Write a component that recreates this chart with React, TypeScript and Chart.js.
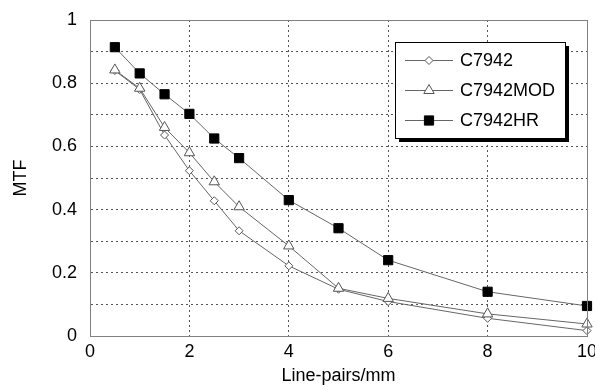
import React, { useEffect, useRef } from "react";
import { Chart, registerables } from "chart.js";

Chart.register(...registerables);

const linePairs = [0.5, 1, 1.5, 2, 2.5, 3, 4, 5, 6, 8, 10];
const c7942 = [0.84, 0.78, 0.636, 0.523, 0.428, 0.333, 0.222, 0.148, 0.109, 0.056, 0.017];
const c7942mod = [0.842, 0.784, 0.66, 0.58, 0.488, 0.409, 0.285, 0.151, 0.119, 0.07, 0.038];
const c7942hr = [0.914, 0.831, 0.765, 0.703, 0.625, 0.563, 0.43, 0.341, 0.24, 0.14, 0.095];
const seriesNames = ["C7942", "C7942MOD", "C7942HR"];

const FONT = "'Liberation Sans', Arial, sans-serif";

const toPoints = (ys: number[]) => ys.map((y, i) => ({ x: linePairs[i], y }));

function drawMarker(ctx: CanvasRenderingContext2D, style: string, r: number, x: number, y: number) {
  ctx.beginPath();
  if (style === "rectRot") {
    ctx.moveTo(x, y - r);
    ctx.lineTo(x + r, y);
    ctx.lineTo(x, y + r);
    ctx.lineTo(x - r, y);
    ctx.closePath();
  } else if (style === "triangle") {
    const w = (r * Math.sqrt(3)) / 2;
    ctx.moveTo(x, y - r);
    ctx.lineTo(x + w, y + r / 2);
    ctx.lineTo(x - w, y + r / 2);
    ctx.closePath();
  } else {
    const s = Math.SQRT1_2 * r;
    ctx.rect(x - s, y - s, 2 * s, 2 * s);
  }
  ctx.fill();
  ctx.stroke();
}

const boxPlugin = {
  id: "boxAndLegend",
  afterDraw(chart: any) {
    const ctx = chart.ctx;
    const a = chart.chartArea;
    ctx.save();
    ctx.strokeStyle = "#808080";
    ctx.lineWidth = 1;
    ctx.strokeRect(
      Math.round(a.left) + 0.5,
      Math.round(a.top) + 0.5,
      Math.round(a.right - a.left),
      Math.round(a.bottom - a.top)
    );
    const bx = 395, by = 42, bw = 170, bh = 96;
    ctx.fillStyle = "#000";
    ctx.fillRect(bx + 4, by + 4, bw, bh);
    ctx.fillStyle = "#fff";
    ctx.fillRect(bx, by, bw, bh);
    ctx.strokeStyle = "#000";
    ctx.strokeRect(bx + 0.5, by + 0.5, bw, bh);
    const rows = [60, 90, 120];
    chart.data.datasets.forEach((ds: any, i: number) => {
      const y = rows[i] + 0.5;
      ctx.strokeStyle = ds.borderColor;
      ctx.lineWidth = 1;
      ctx.beginPath();
      ctx.moveTo(405, y);
      ctx.lineTo(453, y);
      ctx.stroke();
      ctx.fillStyle = ds.pointBackgroundColor;
      ctx.strokeStyle = ds.pointBorderColor;
      drawMarker(ctx, ds.pointStyle, ds.pointRadius, 429, y);
      ctx.fillStyle = "#000";
      ctx.font = `18px ${FONT}`;
      ctx.textBaseline = "middle";
      ctx.textAlign = "left";
      ctx.fillText(ds.label, 460, rows[i] + 1);
    });
    ctx.restore();
  },
};

export default function App() {
  const ref = useRef<HTMLCanvasElement | null>(null);
  useEffect(() => {
    if (!ref.current) return;
    const chart = new Chart(ref.current, {
      type: "line",
      data: {
        datasets: [
          {
            label: seriesNames[0],
            data: toPoints(c7942),
            order: 2,
            borderColor: "#666",
            borderWidth: 1,
            pointStyle: "rectRot",
            pointRadius: 4,
            pointBackgroundColor: "#fff",
            pointBorderColor: "#555",
            pointBorderWidth: 1,
            clip: false,
          },
          {
            label: seriesNames[1],
            data: toPoints(c7942mod),
            order: 0,
            borderColor: "#666",
            borderWidth: 1,
            pointStyle: "triangle",
            pointRadius: 6,
            pointBackgroundColor: "#fff",
            pointBorderColor: "#555",
            pointBorderWidth: 1,
            clip: false,
          },
          {
            label: seriesNames[2],
            data: toPoints(c7942hr),
            order: 1,
            borderColor: "#666",
            borderWidth: 1,
            pointStyle: "rect",
            pointRadius: 6.5,
            pointBackgroundColor: "#000",
            pointBorderColor: "#000",
            pointBorderWidth: 1,
            clip: false,
          },
        ],
      },
      options: {
        responsive: false,
        animation: false,
        devicePixelRatio: 1,
        layout: { padding: { left: 0, right: 8, top: 20, bottom: 0 } },
        plugins: { legend: { display: false }, tooltip: { enabled: false } },
        scales: {
          x: {
            type: "linear",
            min: 0,
            max: 10,
            ticks: { stepSize: 2, color: "#000", font: { family: FONT, size: 18 }, padding: 5, maxRotation: 0 },
            grid: { color: "#555", drawTicks: false },
            border: { display: true, color: "#808080", dash: [2, 3] },
            title: {
              display: true,
              text: "Line-pairs/mm",
              color: "#000",
              font: { family: FONT, size: 18 },
              padding: { top: 0, bottom: 0 },
            },
            afterFit: (s: any) => {
              s.paddingLeft = 0;
              s.paddingRight = 0;
              s.height = 51;
            },
          },
          y: {
            min: 0,
            max: 1,
            ticks: {
              stepSize: 0.1,
              color: "#000",
              font: { family: FONT, size: 18 },
              padding: 13,
              callback: (v: any) => {
                const k = Math.round(Number(v) * 10);
                return k % 2 === 0 ? String(k / 10) : "";
              },
            },
            grid: { color: "#555", drawTicks: false },
            border: { display: true, color: "#808080", dash: [2, 3] },
            title: {
              display: true,
              text: "MTF",
              color: "#000",
              font: { family: FONT, size: 18 },
              padding: { top: 10, bottom: 0 },
            },
            afterFit: (s: any) => {
              s.paddingTop = 0;
              s.paddingBottom = 0;
              s.width = 90;
            },
          },
        },
      },
      plugins: [boxPlugin],
    } as any);
    return () => chart.destroy();
  }, []);
  return (
    <div style={{ position: "absolute", left: 0, top: 0, width: 595, height: 387, background: "#fff" }}>
      <canvas ref={ref} width={595} height={387} />
    </div>
  );
}
